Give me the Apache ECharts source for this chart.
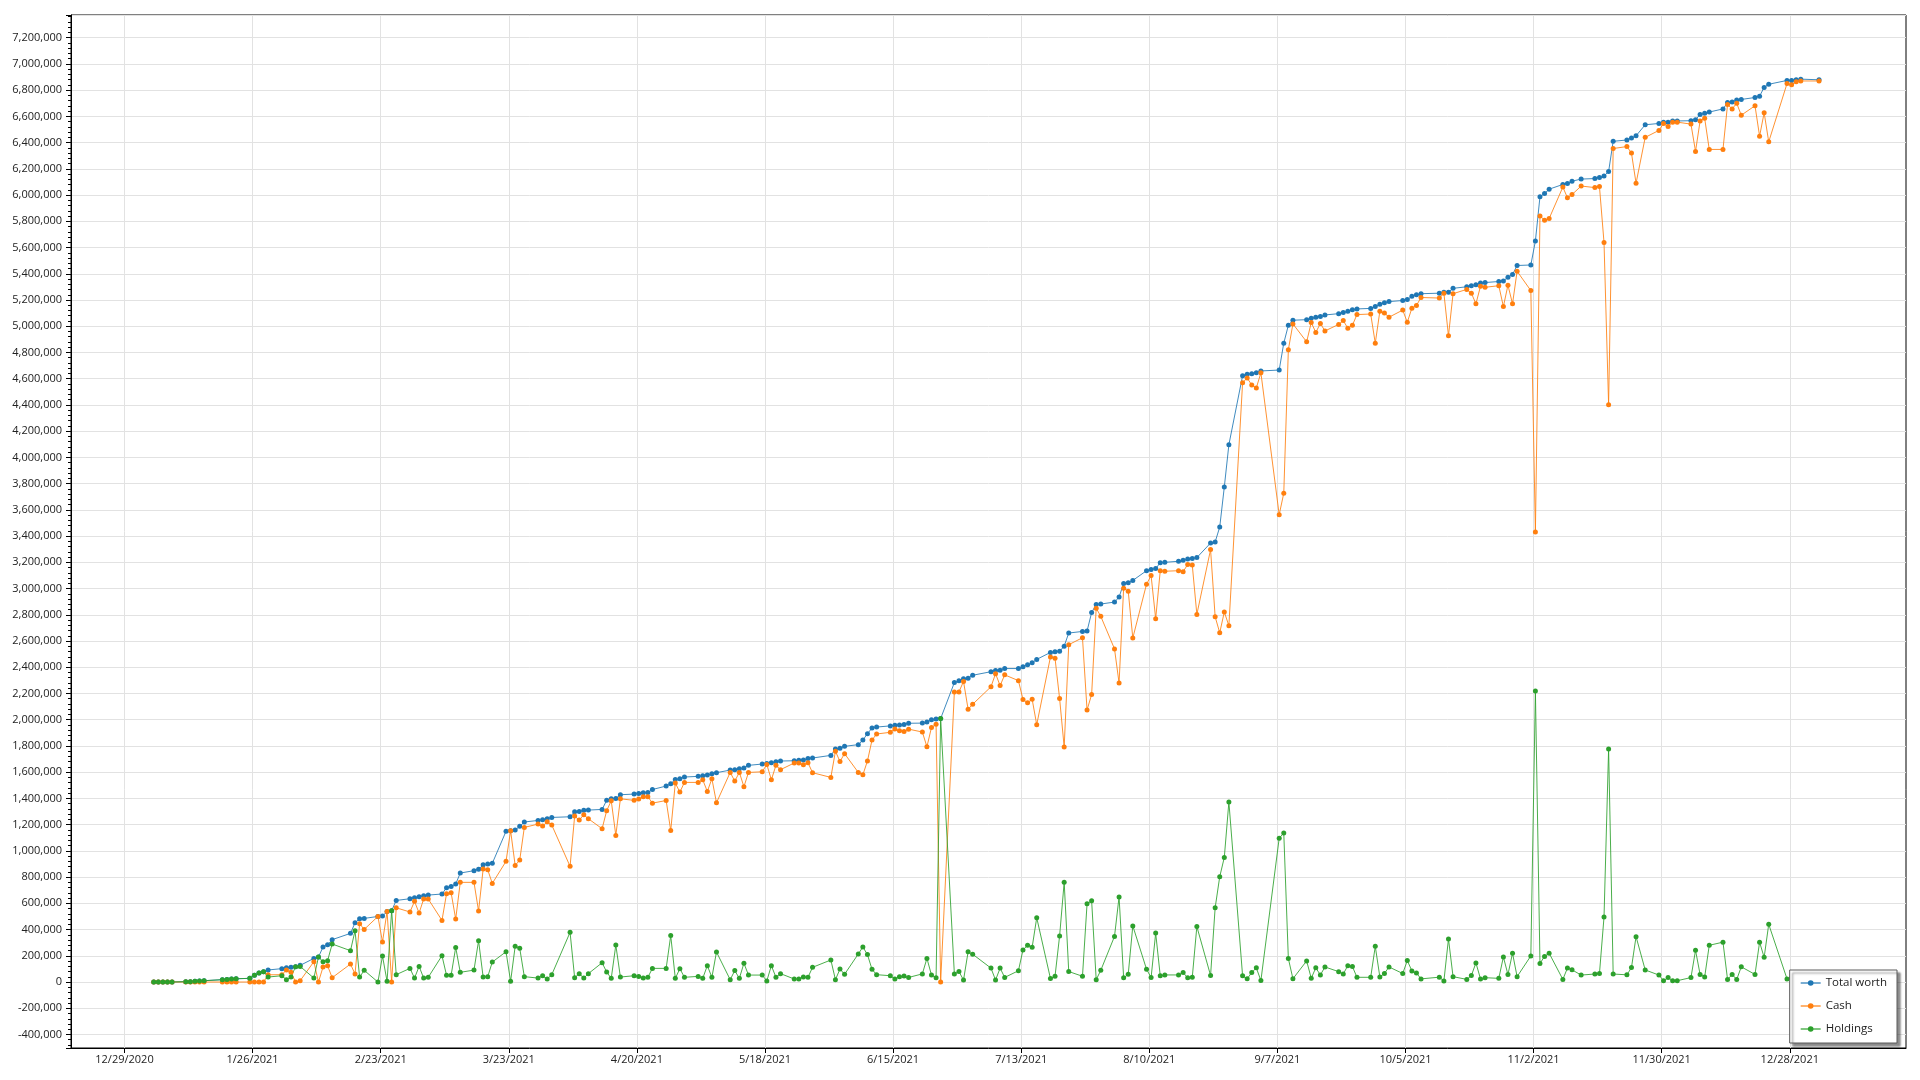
<!DOCTYPE html>
<html>
<head>
<meta charset="utf-8">
<script src="https://cdn.jsdelivr.net/npm/echarts@6/dist/echarts.min.js"></script>
<style>
html,body{margin:0;padding:0;background:#fff;}
#chart{width:1920px;height:1080px;}
</style>
</head>
<body>
<div id="chart"></div>
<script>
// ---------------- data ----------------
const dates = [
 '2021-01-04','2021-01-05','2021-01-06','2021-01-07','2021-01-08','2021-01-11','2021-01-12','2021-01-13','2021-01-14','2021-01-15','2021-01-19','2021-01-20','2021-01-21','2021-01-22','2021-01-25','2021-01-26','2021-01-27','2021-01-28','2021-01-29',
 '2021-02-01','2021-02-02','2021-02-03','2021-02-04','2021-02-05','2021-02-08','2021-02-09','2021-02-10','2021-02-11','2021-02-12','2021-02-16','2021-02-17','2021-02-18','2021-02-19','2021-02-22','2021-02-23','2021-02-24','2021-02-25','2021-02-26',
 '2021-03-01','2021-03-02','2021-03-03','2021-03-04','2021-03-05','2021-03-08','2021-03-09','2021-03-10','2021-03-11','2021-03-12','2021-03-15','2021-03-16','2021-03-17','2021-03-18','2021-03-19','2021-03-22','2021-03-23','2021-03-24','2021-03-25','2021-03-26','2021-03-29','2021-03-30','2021-03-31',
 '2021-04-01','2021-04-05','2021-04-06','2021-04-07','2021-04-08','2021-04-09','2021-04-12','2021-04-13','2021-04-14','2021-04-15','2021-04-16','2021-04-19','2021-04-20','2021-04-21','2021-04-22','2021-04-23','2021-04-26','2021-04-27','2021-04-28','2021-04-29','2021-04-30',
 '2021-05-03','2021-05-04','2021-05-05','2021-05-06','2021-05-07','2021-05-10','2021-05-11','2021-05-12','2021-05-13','2021-05-14','2021-05-17','2021-05-18','2021-05-19','2021-05-20','2021-05-21','2021-05-24','2021-05-25','2021-05-26','2021-05-27','2021-05-28',
 '2021-06-01','2021-06-02','2021-06-03','2021-06-04','2021-06-07','2021-06-08','2021-06-09','2021-06-10','2021-06-11','2021-06-14','2021-06-15','2021-06-16','2021-06-17','2021-06-18','2021-06-21','2021-06-22','2021-06-23','2021-06-24','2021-06-25','2021-06-28','2021-06-29','2021-06-30',
 '2021-07-01','2021-07-02','2021-07-06','2021-07-07','2021-07-08','2021-07-09','2021-07-12','2021-07-13','2021-07-14','2021-07-15','2021-07-16','2021-07-19','2021-07-20','2021-07-21','2021-07-22','2021-07-23','2021-07-26','2021-07-27','2021-07-28','2021-07-29','2021-07-30',
 '2021-08-02','2021-08-03','2021-08-04','2021-08-05','2021-08-06','2021-08-09','2021-08-10','2021-08-11','2021-08-12','2021-08-13','2021-08-16','2021-08-17','2021-08-18','2021-08-19','2021-08-20','2021-08-23','2021-08-24','2021-08-25','2021-08-26','2021-08-27','2021-08-30','2021-08-31',
 '2021-09-01','2021-09-02','2021-09-03','2021-09-07','2021-09-08','2021-09-09','2021-09-10','2021-09-13','2021-09-14','2021-09-15','2021-09-16','2021-09-17','2021-09-20','2021-09-21','2021-09-22','2021-09-23','2021-09-24','2021-09-27','2021-09-28','2021-09-29','2021-09-30',
 '2021-10-01','2021-10-04','2021-10-05','2021-10-06','2021-10-07','2021-10-08','2021-10-12','2021-10-13','2021-10-14','2021-10-15','2021-10-18','2021-10-19','2021-10-20','2021-10-21','2021-10-22','2021-10-25','2021-10-26','2021-10-27','2021-10-28','2021-10-29',
 '2021-11-01','2021-11-02','2021-11-03','2021-11-04','2021-11-05','2021-11-08','2021-11-09','2021-11-10','2021-11-12','2021-11-15','2021-11-16','2021-11-17','2021-11-18','2021-11-19','2021-11-22','2021-11-23','2021-11-24','2021-11-26','2021-11-29','2021-11-30',
 '2021-12-01','2021-12-02','2021-12-03','2021-12-06','2021-12-07','2021-12-08','2021-12-09','2021-12-10','2021-12-13','2021-12-14','2021-12-15','2021-12-16','2021-12-17','2021-12-20','2021-12-21','2021-12-22','2021-12-23','2021-12-27','2021-12-28','2021-12-29','2021-12-30',
 '2022-01-03'
];

const totalWorth = [
 0,0,0,0,0, 3000,3000,5000,8000,10000, 18000,20000,23000,25000, 28000,51000,69000,79000,92000,
 102000,109000,112000,117000,127000, 180000,190000,267000,284000,323000, 371000,452000,483000,485000, 500000,503000,538000,544000,622000,
 635000,643000,650000,658000,663000, 671000,719000,729000,747000,831000, 849000,859000,894000,900000,905000, 1149000,1154000,1159000,1187000,1220000, 1232000,1237000,1245000,
 1255000, 1260000,1298000,1301000,1309000,1311000, 1316000,1385000,1397000,1400000,1428000, 1433000,1438000,1443000,1445000,1468000, 1494000,1512000,1545000,1550000,1563000,
 1568000,1573000,1578000,1588000,1596000, 1616000,1619000,1626000,1631000,1652000, 1662000,1667000,1672000,1680000,1685000, 1687000,1690000,1692000,1705000,1708000,
 1728000,1776000,1782000,1797000, 1810000,1845000,1893000,1937000,1944000, 1953000,1957000,1959000,1963000,1973000, 1974000,1982000,2000000,2006000,2009000, 2283000,2298000,2313000,
 2316000,2339000, 2366000,2375000,2378000,2390000, 2390000,2404000,2419000,2434000,2460000, 2513000,2519000,2522000,2561000,2661000, 2673000,2676000,2817000,2879000,2882000,
 2897000,2935000,3039000,3044000,3062000, 3136000,3146000,3152000,3197000,3200000, 3208000,3215000,3226000,3229000,3236000, 3347000,3355000,3469000,3774000,4097000, 4623000,4634000,
 4638000,4645000,4659000, 4666000,4871000,5007000,5046000, 5050000,5061000,5068000,5075000,5086000, 5096000,5104000,5114000,5125000,5132000, 5136000,5150000,5168000,5179000,
 5188000, 5196000,5203000,5228000,5240000,5248000, 5252000,5260000,5260000,5289000, 5301000,5309000,5317000,5329000,5333000, 5341000,5345000,5374000,5394000,5463000,
 5467000,5650000,5988000,6012000,6045000, 6081000,6089000,6106000,6122000, 6126000,6134000,6146000,6179000,6410000, 6420000,6435000,6452000,6536000, 6546000,6556000,
 6556000,6565000,6565000, 6567000,6575000,6614000,6623000,6633000, 6657000,6705000,6710000,6725000,6729000, 6744000,6754000,6821000,6845000, 6874000,6874000,6879000,6884000,
 6879000
];

const cash = [
 0,0,0,0,0, 0,0,0,0,0, 0,0,0,0, 0,0,0,0,55000,
 56000,91000,74000,0,10000, 155000,0,114000,124000,33000, 137000,61000,445000,401000, 500000,305000,538000,0,566000,
 534000,615000,526000,633000,633000, 470000,673000,681000,480000,760000, 760000,541000,861000,856000,752000, 920000,1154000,889000,930000,1179000, 1204000,1189000,1222000,
 1197000, 882000,1265000,1235000,1275000,1245000, 1169000,1306000,1382000,1118000,1397000, 1385000,1395000,1413000,1413000,1364000, 1384000,1155000,1517000,1448000,1522000,
 1522000,1542000,1453000,1550000,1367000, 1598000,1532000,1598000,1489000,1598000, 1603000,1659000,1542000,1652000,1619000, 1670000,1670000,1657000,1672000,1596000,
 1560000,1759000,1682000,1741000, 1598000,1580000,1685000,1845000,1891000, 1904000,1930000,1915000,1910000,1928000, 1906000,1794000,1941000,1965000,0, 2212000,2212000,2292000,
 2080000,2118000, 2251000,2351000,2260000,2342000, 2298000,2154000,2130000,2156000,1962000, 2478000,2469000,2162000,1791000,2572000, 2625000,2074000,2192000,2850000,2788000,
 2540000,2280000,3003000,2980000,2623000, 3033000,3099000,2770000,3136000,3132000, 3136000,3129000,3183000,3179000,2803000, 3297000,2785000,2663000,2821000,2717000, 4570000,4605000,
 4552000,4530000,4645000, 3563000,3727000,4821000,5018000, 4881000,5028000,4953000,5021000,4964000, 5014000,5043000,4985000,5007000,5089000, 5093000,4871000,5114000,5100000,
 5069000, 5123000,5030000,5138000,5158000,5219000, 5215000,5252000,4927000,5248000, 5281000,5252000,5171000,5305000,5297000, 5309000,5150000,5313000,5171000,5419000,
 5272000,3431000,5841000,5809000,5821000, 6061000,5980000,6004000,6069000, 6057000,6065000,5638000,4402000,6355000, 6370000,6320000,6090000,6440000, 6493000,6546000,
 6522000,6556000,6556000, 6541000,6333000,6565000,6585000,6348000, 6348000,6691000,6657000,6700000,6609000, 6681000,6449000,6628000,6406000, 6850000,6841000,6865000,6870000,
 6870000
];

const holdings = [
 0,0,0,0,0, 3000,3000,5000,8000,10000, 18000,20000,23000,25000, 28000,51000,69000,79000,38000,
 48000,18000,38000,117000,119000, 30000,190000,155000,163000,290000, 239000,391000,38000,89000, 0,198000,5000,544000,56000,
 104000,30000,119000,30000,36000, 201000,51000,51000,264000,74000, 91000,315000,38000,41000,152000, 231000,5000,272000,257000,41000, 30000,48000,23000,
 56000, 379000,33000,64000,30000,64000, 147000,76000,28000,282000,38000, 48000,43000,30000,36000,104000, 104000,354000,28000,102000,36000,
 43000,28000,125000,36000,229000, 18000,87000,28000,143000,53000, 53000,8000,125000,36000,64000, 23000,23000,38000,36000,112000,
 168000,18000,99000,59000, 214000,267000,209000,97000,56000, 48000,23000,40000,46000,35000, 62000,180000,53000,32000,2009000, 62000,80000,15000,
 230000,212000, 106000,15000,106000,35000, 86000,245000,280000,265000,490000, 27000,44000,351000,761000,80000, 44000,596000,620000,18000,89000,
 348000,649000,32000,59000,428000, 98000,34000,373000,47000,54000, 54000,72000,32000,36000,423000, 50000,566000,803000,950000,1373000, 47000,25000,
 72000,108000,11000, 1097000,1136000,179000,25000, 161000,29000,108000,54000,115000, 79000,61000,125000,118000,36000, 36000,272000,39000,65000,
 115000, 65000,164000,85000,69000,24000, 37000,8000,329000,41000, 20000,49000,146000,24000,33000, 28000,191000,57000,220000,41000,
 199000,2219000,142000,195000,220000, 20000,106000,93000,53000, 61000,65000,496000,1776000,61000, 55000,110000,346000,92000, 53000,10000,
 34000,10000,10000, 34000,242000,58000,39000,280000, 304000,19000,58000,19000,116000, 58000,304000,188000,440000, 24000,30000,15000,14000,
 9000
];

const xTickLabels = ['12/29/2020','1/26/2021','2/23/2021','3/23/2021','4/20/2021','5/18/2021','6/15/2021',
  '7/13/2021','8/10/2021','9/7/2021','10/5/2021','11/2/2021','11/30/2021','12/28/2021'];
const seriesNames = ['Total worth','Cash','Holdings'];

// ---------------- build ----------------
const DAY = 86400000;
function parseISO(s){ const p = s.split('-').map(Number); return Date.UTC(p[0], p[1]-1, p[2], 9, 30); }
function parseMDY(s){ const p = s.split('/').map(Number); return Date.UTC(p[2], p[0]-1, p[1]); }
function fmtMDY(v){ const d = new Date(Math.round(v / DAY) * DAY); return (d.getUTCMonth()+1) + '/' + d.getUTCDate() + '/' + d.getUTCFullYear(); }

const tickTimes = xTickLabels.map(parseMDY);
const xMin = tickTimes[0] - 11.69 * DAY;
const xMax = tickTimes[0] + 389.4 * DAY;

const colors = ['#1f77b4', '#ff7f0e', '#2ca02c'];
const values = [totalWorth, cash, holdings];
const FONT = '"Segoe UI", "Open Sans", "Noto Sans", sans-serif';

const chart = echarts.init(document.getElementById('chart'), null, {renderer: 'canvas'});
const option = {
  animation: false,
  backgroundColor: '#ffffff',
  textStyle: {fontFamily: FONT},
  grid: {
    left: 71, right: 14, top: 15, bottom: 32,
    show: true, borderColor: '#000', borderWidth: 1,
    containLabel: false, outerBoundsMode: 'none'
  },
  legend: {
    orient: 'vertical',
    right: 23, bottom: 37,
    data: seriesNames,
    backgroundColor: '#ffffff',
    borderColor: '#5a5a5a', borderWidth: 1, borderRadius: 0,
    padding: [7, 10, 8, 10],
    itemWidth: 20, itemHeight: 7, itemGap: 11,
    lineStyle: {width: 2, opacity: 0.6},
    shadowColor: 'rgba(0,0,0,0.45)', shadowBlur: 2, shadowOffsetX: 3, shadowOffsetY: 3,
    textStyle: {fontFamily: FONT, fontSize: 11.5, color: '#222'},
    selectedMode: false
  },
  xAxis: {
    type: 'value',
    min: xMin, max: xMax,
    axisLine: {show: true, onZero: false, lineStyle: {color: '#000', width: 1}},
    axisTick: {show: true, customValues: tickTimes, length: 5, lineStyle: {color: '#000'}},
    axisLabel: {customValues: tickTimes, formatter: fmtMDY, color: '#222', fontSize: 11, fontFamily: FONT, margin: 6},
    splitLine: {show: true, lineStyle: {color: '#e2e2e2', width: 1}}
  },
  yAxis: {
    type: 'value',
    min: -503000, max: 7373000,
    splitNumber: 40,
    axisLine: {show: true, onZero: false, lineStyle: {color: '#000', width: 1}},
    axisTick: {show: true, length: 5, lineStyle: {color: '#000'}},
    minorTick: {show: true, splitNumber: 5, length: 3, lineStyle: {color: '#000'}},
    axisLabel: {
      showMinLabel: false, showMaxLabel: false,
      formatter: v => Number(v).toLocaleString('en-US'),
      color: '#222', fontSize: 11, fontFamily: FONT, margin: 9
    },
    splitLine: {show: true, lineStyle: {color: '#e2e2e2', width: 1}}
  },
  series: seriesNames.map((name, k) => ({
    name: name,
    type: 'line',
    data: dates.map((d, i) => [parseISO(d), values[k][i]]),
    symbol: 'circle',
    symbolSize: 5,
    showSymbol: true,
    showAllSymbol: true,
    clip: true,
    color: colors[k],
    lineStyle: {width: 1, color: colors[k], opacity: 0.85},
    itemStyle: {color: colors[k]},
    emphasis: {disabled: true}
  }))
};
chart.setOption(option);
</script>
</body>
</html>
